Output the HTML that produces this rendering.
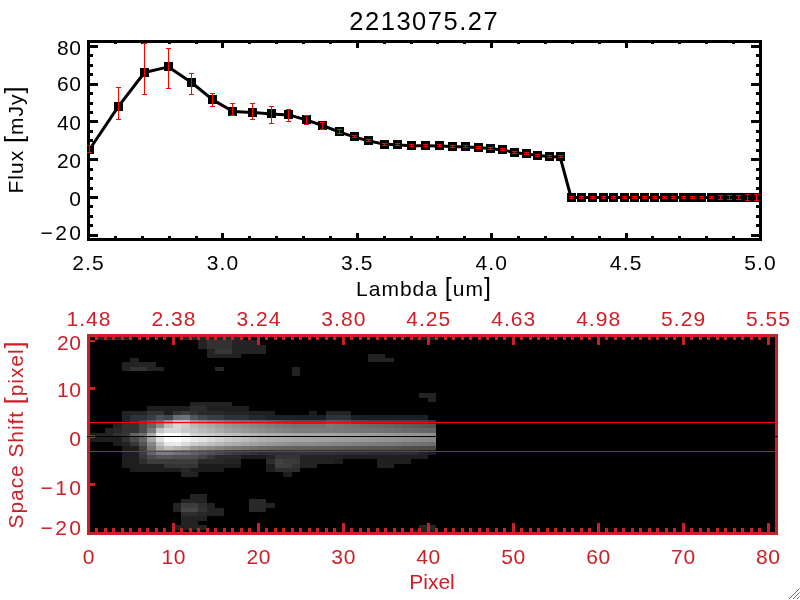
<!DOCTYPE html>
<html lang="en"><head><meta charset="utf-8"><title>2213075.27</title>
<style>html,body{margin:0;padding:0;background:#fff;}body{width:800px;height:600px;overflow:hidden;}svg{display:block;}text{font-family:"Liberation Sans", sans-serif;}</style>
</head><body>
<svg width="800" height="600" viewBox="0 0 800 600">
<rect x="0" y="0" width="800" height="600" fill="#fff"/>
<g shape-rendering="crispEdges">
<rect x="87" y="40" width="675" height="3" fill="#000"/>
<rect x="87" y="238" width="675" height="3" fill="#000"/>
<rect x="87" y="40" width="3" height="201" fill="#000"/>
<rect x="759" y="40" width="3" height="201" fill="#000"/>
<rect x="87" y="43" width="3" height="5" fill="#000"/>
<rect x="87" y="233" width="3" height="5" fill="#000"/>
<rect x="114" y="43" width="3" height="1" fill="#000"/>
<rect x="114" y="236" width="3" height="2" fill="#000"/>
<rect x="141" y="43" width="3" height="1" fill="#000"/>
<rect x="141" y="236" width="3" height="2" fill="#000"/>
<rect x="168" y="43" width="3" height="1" fill="#000"/>
<rect x="168" y="236" width="3" height="2" fill="#000"/>
<rect x="195" y="43" width="3" height="1" fill="#000"/>
<rect x="195" y="236" width="3" height="2" fill="#000"/>
<rect x="221" y="43" width="3" height="5" fill="#000"/>
<rect x="221" y="233" width="3" height="5" fill="#000"/>
<rect x="248" y="43" width="3" height="1" fill="#000"/>
<rect x="248" y="236" width="3" height="2" fill="#000"/>
<rect x="275" y="43" width="3" height="1" fill="#000"/>
<rect x="275" y="236" width="3" height="2" fill="#000"/>
<rect x="302" y="43" width="3" height="1" fill="#000"/>
<rect x="302" y="236" width="3" height="2" fill="#000"/>
<rect x="329" y="43" width="3" height="1" fill="#000"/>
<rect x="329" y="236" width="3" height="2" fill="#000"/>
<rect x="356" y="43" width="3" height="5" fill="#000"/>
<rect x="356" y="233" width="3" height="5" fill="#000"/>
<rect x="383" y="43" width="3" height="1" fill="#000"/>
<rect x="383" y="236" width="3" height="2" fill="#000"/>
<rect x="410" y="43" width="3" height="1" fill="#000"/>
<rect x="410" y="236" width="3" height="2" fill="#000"/>
<rect x="436" y="43" width="3" height="1" fill="#000"/>
<rect x="436" y="236" width="3" height="2" fill="#000"/>
<rect x="463" y="43" width="3" height="1" fill="#000"/>
<rect x="463" y="236" width="3" height="2" fill="#000"/>
<rect x="490" y="43" width="3" height="5" fill="#000"/>
<rect x="490" y="233" width="3" height="5" fill="#000"/>
<rect x="517" y="43" width="3" height="1" fill="#000"/>
<rect x="517" y="236" width="3" height="2" fill="#000"/>
<rect x="544" y="43" width="3" height="1" fill="#000"/>
<rect x="544" y="236" width="3" height="2" fill="#000"/>
<rect x="571" y="43" width="3" height="1" fill="#000"/>
<rect x="571" y="236" width="3" height="2" fill="#000"/>
<rect x="598" y="43" width="3" height="1" fill="#000"/>
<rect x="598" y="236" width="3" height="2" fill="#000"/>
<rect x="625" y="43" width="3" height="5" fill="#000"/>
<rect x="625" y="233" width="3" height="5" fill="#000"/>
<rect x="651" y="43" width="3" height="1" fill="#000"/>
<rect x="651" y="236" width="3" height="2" fill="#000"/>
<rect x="678" y="43" width="3" height="1" fill="#000"/>
<rect x="678" y="236" width="3" height="2" fill="#000"/>
<rect x="705" y="43" width="3" height="1" fill="#000"/>
<rect x="705" y="236" width="3" height="2" fill="#000"/>
<rect x="732" y="43" width="3" height="1" fill="#000"/>
<rect x="732" y="236" width="3" height="2" fill="#000"/>
<rect x="759" y="43" width="3" height="5" fill="#000"/>
<rect x="759" y="233" width="3" height="5" fill="#000"/>
<rect x="90" y="234" width="8" height="3" fill="#000"/>
<rect x="751" y="234" width="8" height="3" fill="#000"/>
<rect x="90" y="224" width="3" height="3" fill="#000"/>
<rect x="756" y="224" width="3" height="3" fill="#000"/>
<rect x="90" y="215" width="3" height="3" fill="#000"/>
<rect x="756" y="215" width="3" height="3" fill="#000"/>
<rect x="90" y="205" width="3" height="3" fill="#000"/>
<rect x="756" y="205" width="3" height="3" fill="#000"/>
<rect x="90" y="196" width="8" height="3" fill="#000"/>
<rect x="751" y="196" width="8" height="3" fill="#000"/>
<rect x="90" y="187" width="3" height="3" fill="#000"/>
<rect x="756" y="187" width="3" height="3" fill="#000"/>
<rect x="90" y="177" width="3" height="3" fill="#000"/>
<rect x="756" y="177" width="3" height="3" fill="#000"/>
<rect x="90" y="168" width="3" height="3" fill="#000"/>
<rect x="756" y="168" width="3" height="3" fill="#000"/>
<rect x="90" y="158" width="8" height="3" fill="#000"/>
<rect x="751" y="158" width="8" height="3" fill="#000"/>
<rect x="90" y="149" width="3" height="3" fill="#000"/>
<rect x="756" y="149" width="3" height="3" fill="#000"/>
<rect x="90" y="139" width="3" height="3" fill="#000"/>
<rect x="756" y="139" width="3" height="3" fill="#000"/>
<rect x="90" y="130" width="3" height="3" fill="#000"/>
<rect x="756" y="130" width="3" height="3" fill="#000"/>
<rect x="90" y="120" width="8" height="3" fill="#000"/>
<rect x="751" y="120" width="8" height="3" fill="#000"/>
<rect x="90" y="111" width="3" height="3" fill="#000"/>
<rect x="756" y="111" width="3" height="3" fill="#000"/>
<rect x="90" y="102" width="3" height="3" fill="#000"/>
<rect x="756" y="102" width="3" height="3" fill="#000"/>
<rect x="90" y="92" width="3" height="3" fill="#000"/>
<rect x="756" y="92" width="3" height="3" fill="#000"/>
<rect x="90" y="83" width="8" height="3" fill="#000"/>
<rect x="751" y="83" width="8" height="3" fill="#000"/>
<rect x="90" y="73" width="3" height="3" fill="#000"/>
<rect x="756" y="73" width="3" height="3" fill="#000"/>
<rect x="90" y="64" width="3" height="3" fill="#000"/>
<rect x="756" y="64" width="3" height="3" fill="#000"/>
<rect x="90" y="54" width="3" height="3" fill="#000"/>
<rect x="756" y="54" width="3" height="3" fill="#000"/>
<rect x="90" y="45" width="8" height="3" fill="#000"/>
<rect x="751" y="45" width="8" height="3" fill="#000"/>
</g>
<clipPath id="ctop"><rect x="88" y="41" width="673" height="199"/></clipPath>
<g clip-path="url(#ctop)">
<polyline fill="none" stroke="#000" stroke-width="3" stroke-linejoin="round" points="89.5,149.5 118.1,106.9 144.5,72.5 168.5,66.9 191.5,82.5 212.9,99.9 232.9,111.5 252.5,112.5 271.1,113.9 288.9,114.9 306.1,119.9 322.5,125.5 339.1,131.9 354.1,136.9 369,141 384.1,144.1 397.9,144.9 411.9,145.7 425.9,145.7 439.1,145.9 452.1,146.5 465.1,146.9 478.1,147.5 490.1,148.5 502.5,149.9 514.1,152.5 526.1,153.9 537.9,155.5 549.1,156.5 560.1,156.9 571.1,197.5 581.9,197.5 592.9,197.5 603.1,197.5 613.9,197.5 624.1,197.5 634.5,197.5 644.1,197.5 654.1,197.5 664.1,197.5 673.9,197.5 683.1,197.5 692.9,197.5 701.9,197.5 711.1,197.5 720.5,197.5 729.5,197.5 738.5,197.5 747.9,197.5 756.1,197.5"/>
<g shape-rendering="crispEdges">
<rect x="85" y="145" width="9" height="9" fill="#000"/>
<rect x="114" y="102" width="9" height="9" fill="#000"/>
<rect x="140" y="68" width="9" height="9" fill="#000"/>
<rect x="164" y="62" width="9" height="9" fill="#000"/>
<rect x="187" y="78" width="9" height="9" fill="#000"/>
<rect x="208" y="95" width="9" height="9" fill="#000"/>
<rect x="228" y="107" width="9" height="9" fill="#000"/>
<rect x="248" y="108" width="9" height="9" fill="#000"/>
<rect x="267" y="109" width="9" height="9" fill="#000"/>
<rect x="284" y="110" width="9" height="9" fill="#000"/>
<rect x="302" y="115" width="9" height="9" fill="#000"/>
<rect x="318" y="121" width="9" height="9" fill="#000"/>
<rect x="335" y="127" width="9" height="9" fill="#000"/>
<rect x="350" y="132" width="9" height="9" fill="#000"/>
<rect x="364" y="136" width="9" height="9" fill="#000"/>
<rect x="380" y="140" width="9" height="9" fill="#000"/>
<rect x="393" y="140" width="9" height="9" fill="#000"/>
<rect x="407" y="141" width="9" height="9" fill="#000"/>
<rect x="421" y="141" width="9" height="9" fill="#000"/>
<rect x="435" y="141" width="9" height="9" fill="#000"/>
<rect x="448" y="142" width="9" height="9" fill="#000"/>
<rect x="461" y="142" width="9" height="9" fill="#000"/>
<rect x="474" y="143" width="9" height="9" fill="#000"/>
<rect x="486" y="144" width="9" height="9" fill="#000"/>
<rect x="498" y="145" width="9" height="9" fill="#000"/>
<rect x="510" y="148" width="9" height="9" fill="#000"/>
<rect x="522" y="149" width="9" height="9" fill="#000"/>
<rect x="533" y="151" width="9" height="9" fill="#000"/>
<rect x="545" y="152" width="9" height="9" fill="#000"/>
<rect x="556" y="152" width="9" height="9" fill="#000"/>
<rect x="567" y="193" width="9" height="9" fill="#000"/>
<rect x="577" y="193" width="9" height="9" fill="#000"/>
<rect x="588" y="193" width="9" height="9" fill="#000"/>
<rect x="599" y="193" width="9" height="9" fill="#000"/>
<rect x="609" y="193" width="9" height="9" fill="#000"/>
<rect x="620" y="193" width="9" height="9" fill="#000"/>
<rect x="630" y="193" width="9" height="9" fill="#000"/>
<rect x="640" y="193" width="9" height="9" fill="#000"/>
<rect x="650" y="193" width="9" height="9" fill="#000"/>
<rect x="660" y="193" width="9" height="9" fill="#000"/>
<rect x="669" y="193" width="9" height="9" fill="#000"/>
<rect x="679" y="193" width="9" height="9" fill="#000"/>
<rect x="688" y="193" width="9" height="9" fill="#000"/>
<rect x="697" y="193" width="9" height="9" fill="#000"/>
<rect x="707" y="193" width="9" height="9" fill="#000"/>
<rect x="716" y="193" width="9" height="9" fill="#000"/>
<rect x="725" y="193" width="9" height="9" fill="#000"/>
<rect x="734" y="193" width="9" height="9" fill="#000"/>
<rect x="743" y="193" width="9" height="9" fill="#000"/>
<rect x="752" y="193" width="9" height="9" fill="#000"/>
<rect x="89" y="145" width="1" height="8" fill="#f00"/>
<rect x="87" y="145" width="5" height="1" fill="#f00"/>
<rect x="87" y="152" width="5" height="1" fill="#f00"/>
<rect x="118" y="87" width="1" height="33" fill="#f00"/>
<rect x="116" y="87" width="5" height="1" fill="#f00"/>
<rect x="116" y="119" width="5" height="1" fill="#f00"/>
<rect x="144" y="43" width="1" height="52" fill="#f00"/>
<rect x="142" y="43" width="5" height="1" fill="#f00"/>
<rect x="142" y="94" width="5" height="1" fill="#f00"/>
<rect x="168" y="48" width="1" height="41" fill="#f00"/>
<rect x="166" y="48" width="5" height="1" fill="#f00"/>
<rect x="166" y="88" width="5" height="1" fill="#f00"/>
<rect x="191" y="73" width="1" height="22" fill="#f00"/>
<rect x="189" y="73" width="5" height="1" fill="#f00"/>
<rect x="189" y="94" width="5" height="1" fill="#f00"/>
<rect x="212" y="93" width="1" height="14" fill="#f00"/>
<rect x="210" y="93" width="5" height="1" fill="#f00"/>
<rect x="210" y="106" width="5" height="1" fill="#f00"/>
<rect x="232" y="103" width="1" height="13" fill="#f00"/>
<rect x="230" y="103" width="5" height="1" fill="#f00"/>
<rect x="230" y="115" width="5" height="1" fill="#f00"/>
<rect x="252" y="103" width="1" height="17" fill="#f00"/>
<rect x="250" y="103" width="5" height="1" fill="#f00"/>
<rect x="250" y="119" width="5" height="1" fill="#f00"/>
<rect x="271" y="106" width="1" height="18" fill="#f00"/>
<rect x="269" y="106" width="5" height="1" fill="#f00"/>
<rect x="269" y="123" width="5" height="1" fill="#f00"/>
<rect x="288" y="109" width="1" height="13" fill="#f00"/>
<rect x="286" y="109" width="5" height="1" fill="#f00"/>
<rect x="286" y="121" width="5" height="1" fill="#f00"/>
<rect x="306" y="115" width="1" height="10" fill="#f00"/>
<rect x="304" y="115" width="5" height="1" fill="#f00"/>
<rect x="304" y="124" width="5" height="1" fill="#f00"/>
<rect x="322" y="122" width="1" height="8" fill="#f00"/>
<rect x="320" y="122" width="5" height="1" fill="#f00"/>
<rect x="320" y="129" width="5" height="1" fill="#f00"/>
<rect x="339" y="129" width="1" height="5" fill="#f00"/>
<rect x="337" y="129" width="5" height="1" fill="#f00"/>
<rect x="337" y="133" width="5" height="1" fill="#f00"/>
<rect x="354" y="135" width="1" height="3" fill="#f00"/>
<rect x="352" y="135" width="5" height="1" fill="#f00"/>
<rect x="352" y="137" width="5" height="1" fill="#f00"/>
<rect x="368" y="139" width="1" height="3" fill="#f00"/>
<rect x="366" y="139" width="5" height="1" fill="#f00"/>
<rect x="366" y="141" width="5" height="1" fill="#f00"/>
<rect x="384" y="143" width="1" height="3" fill="#f00"/>
<rect x="382" y="143" width="5" height="1" fill="#f00"/>
<rect x="382" y="145" width="5" height="1" fill="#f00"/>
<rect x="397" y="143" width="1" height="3" fill="#f00"/>
<rect x="395" y="143" width="5" height="1" fill="#f00"/>
<rect x="395" y="145" width="5" height="1" fill="#f00"/>
<rect x="411" y="144" width="1" height="3" fill="#f00"/>
<rect x="409" y="144" width="5" height="1" fill="#f00"/>
<rect x="409" y="146" width="5" height="1" fill="#f00"/>
<rect x="425" y="144" width="1" height="3" fill="#f00"/>
<rect x="423" y="144" width="5" height="1" fill="#f00"/>
<rect x="423" y="146" width="5" height="1" fill="#f00"/>
<rect x="439" y="144" width="1" height="3" fill="#f00"/>
<rect x="437" y="144" width="5" height="1" fill="#f00"/>
<rect x="437" y="146" width="5" height="1" fill="#f00"/>
<rect x="452" y="145" width="1" height="3" fill="#f00"/>
<rect x="450" y="145" width="5" height="1" fill="#f00"/>
<rect x="450" y="147" width="5" height="1" fill="#f00"/>
<rect x="465" y="145" width="1" height="3" fill="#f00"/>
<rect x="463" y="145" width="5" height="1" fill="#f00"/>
<rect x="463" y="147" width="5" height="1" fill="#f00"/>
<rect x="478" y="146" width="1" height="3" fill="#f00"/>
<rect x="476" y="146" width="5" height="1" fill="#f00"/>
<rect x="476" y="148" width="5" height="1" fill="#f00"/>
<rect x="490" y="147" width="1" height="3" fill="#f00"/>
<rect x="488" y="147" width="5" height="1" fill="#f00"/>
<rect x="488" y="149" width="5" height="1" fill="#f00"/>
<rect x="502" y="148" width="1" height="3" fill="#f00"/>
<rect x="500" y="148" width="5" height="1" fill="#f00"/>
<rect x="500" y="150" width="5" height="1" fill="#f00"/>
<rect x="514" y="151" width="1" height="3" fill="#f00"/>
<rect x="512" y="151" width="5" height="1" fill="#f00"/>
<rect x="512" y="153" width="5" height="1" fill="#f00"/>
<rect x="526" y="152" width="1" height="3" fill="#f00"/>
<rect x="524" y="152" width="5" height="1" fill="#f00"/>
<rect x="524" y="154" width="5" height="1" fill="#f00"/>
<rect x="537" y="154" width="1" height="3" fill="#f00"/>
<rect x="535" y="154" width="5" height="1" fill="#f00"/>
<rect x="535" y="156" width="5" height="1" fill="#f00"/>
<rect x="549" y="155" width="1" height="3" fill="#f00"/>
<rect x="547" y="155" width="5" height="1" fill="#f00"/>
<rect x="547" y="157" width="5" height="1" fill="#f00"/>
<rect x="560" y="155" width="1" height="3" fill="#f00"/>
<rect x="558" y="155" width="5" height="1" fill="#f00"/>
<rect x="558" y="157" width="5" height="1" fill="#f00"/>
<rect x="571" y="196" width="1" height="3" fill="#f00"/>
<rect x="569" y="196" width="5" height="1" fill="#f00"/>
<rect x="569" y="198" width="5" height="1" fill="#f00"/>
<rect x="581" y="196" width="1" height="3" fill="#f00"/>
<rect x="579" y="196" width="5" height="1" fill="#f00"/>
<rect x="579" y="198" width="5" height="1" fill="#f00"/>
<rect x="592" y="196" width="1" height="3" fill="#f00"/>
<rect x="590" y="196" width="5" height="1" fill="#f00"/>
<rect x="590" y="198" width="5" height="1" fill="#f00"/>
<rect x="603" y="196" width="1" height="3" fill="#f00"/>
<rect x="601" y="196" width="5" height="1" fill="#f00"/>
<rect x="601" y="198" width="5" height="1" fill="#f00"/>
<rect x="613" y="196" width="1" height="3" fill="#f00"/>
<rect x="611" y="196" width="5" height="1" fill="#f00"/>
<rect x="611" y="198" width="5" height="1" fill="#f00"/>
<rect x="624" y="196" width="1" height="3" fill="#f00"/>
<rect x="622" y="196" width="5" height="1" fill="#f00"/>
<rect x="622" y="198" width="5" height="1" fill="#f00"/>
<rect x="634" y="196" width="1" height="3" fill="#f00"/>
<rect x="632" y="196" width="5" height="1" fill="#f00"/>
<rect x="632" y="198" width="5" height="1" fill="#f00"/>
<rect x="644" y="196" width="1" height="3" fill="#f00"/>
<rect x="642" y="196" width="5" height="1" fill="#f00"/>
<rect x="642" y="198" width="5" height="1" fill="#f00"/>
<rect x="654" y="196" width="1" height="3" fill="#f00"/>
<rect x="652" y="196" width="5" height="1" fill="#f00"/>
<rect x="652" y="198" width="5" height="1" fill="#f00"/>
<rect x="664" y="196" width="1" height="3" fill="#f00"/>
<rect x="662" y="196" width="5" height="1" fill="#f00"/>
<rect x="662" y="198" width="5" height="1" fill="#f00"/>
<rect x="673" y="196" width="1" height="3" fill="#f00"/>
<rect x="671" y="196" width="5" height="1" fill="#f00"/>
<rect x="671" y="198" width="5" height="1" fill="#f00"/>
<rect x="683" y="196" width="1" height="3" fill="#f00"/>
<rect x="681" y="196" width="5" height="1" fill="#f00"/>
<rect x="681" y="198" width="5" height="1" fill="#f00"/>
<rect x="692" y="196" width="1" height="3" fill="#f00"/>
<rect x="690" y="196" width="5" height="1" fill="#f00"/>
<rect x="690" y="198" width="5" height="1" fill="#f00"/>
<rect x="701" y="196" width="1" height="3" fill="#f00"/>
<rect x="699" y="196" width="5" height="1" fill="#f00"/>
<rect x="699" y="198" width="5" height="1" fill="#f00"/>
<rect x="711" y="196" width="1" height="3" fill="#f00"/>
<rect x="709" y="196" width="5" height="1" fill="#f00"/>
<rect x="709" y="198" width="5" height="1" fill="#f00"/>
<rect x="720" y="195" width="1" height="5" fill="#f00"/>
<rect x="718" y="195" width="5" height="1" fill="#f00"/>
<rect x="718" y="199" width="5" height="1" fill="#f00"/>
<rect x="729" y="195" width="1" height="5" fill="#f00"/>
<rect x="727" y="195" width="5" height="1" fill="#f00"/>
<rect x="727" y="199" width="5" height="1" fill="#f00"/>
<rect x="738" y="195" width="1" height="5" fill="#f00"/>
<rect x="736" y="195" width="5" height="1" fill="#f00"/>
<rect x="736" y="199" width="5" height="1" fill="#f00"/>
<rect x="747" y="194" width="1" height="7" fill="#f00"/>
<rect x="745" y="194" width="5" height="1" fill="#f00"/>
<rect x="745" y="200" width="5" height="1" fill="#f00"/>
<rect x="756" y="194" width="1" height="7" fill="#f00"/>
<rect x="754" y="194" width="5" height="1" fill="#f00"/>
<rect x="754" y="200" width="5" height="1" fill="#f00"/>
</g></g>
<g shape-rendering="crispEdges">
<rect x="89" y="145" width="1" height="8" fill="#f00"/>
<rect x="87" y="145" width="5" height="1" fill="#f00"/>
<rect x="87" y="152" width="5" height="1" fill="#f00"/>
</g>
<text x="423.5" y="29.5" font-size="25.5" fill="#000" text-anchor="middle" textLength="148.5" lengthAdjust="spacing" >2213075.27</text>
<text x="81" y="55" font-size="21" fill="#000" text-anchor="end" textLength="24" lengthAdjust="spacing" >80</text>
<text x="81" y="91" font-size="21" fill="#000" text-anchor="end" textLength="24" lengthAdjust="spacing" >60</text>
<text x="81" y="129.5" font-size="21" fill="#000" text-anchor="end" textLength="24" lengthAdjust="spacing" >40</text>
<text x="81" y="168" font-size="21" fill="#000" text-anchor="end" textLength="24" lengthAdjust="spacing" >20</text>
<text x="81" y="205.5" font-size="21" fill="#000" text-anchor="end" textLength="12" lengthAdjust="spacing" >0</text>
<text x="81" y="239.5" font-size="21" fill="#000" text-anchor="end" textLength="40.5" lengthAdjust="spacing" >−20</text>
<text x="88" y="269.5" font-size="21" fill="#000" text-anchor="middle" textLength="31.5" lengthAdjust="spacing" >2.5</text>
<text x="222.4" y="269.5" font-size="21" fill="#000" text-anchor="middle" textLength="31.5" lengthAdjust="spacing" >3.0</text>
<text x="356.8" y="269.5" font-size="21" fill="#000" text-anchor="middle" textLength="31.5" lengthAdjust="spacing" >3.5</text>
<text x="491.2" y="269.5" font-size="21" fill="#000" text-anchor="middle" textLength="31.5" lengthAdjust="spacing" >4.0</text>
<text x="625.6" y="269.5" font-size="21" fill="#000" text-anchor="middle" textLength="31.5" lengthAdjust="spacing" >4.5</text>
<text x="760" y="269.5" font-size="21" fill="#000" text-anchor="middle" textLength="31.5" lengthAdjust="spacing" >5.0</text>
<text x="423.5" y="295.5" font-size="21" fill="#000" text-anchor="middle" textLength="135" lengthAdjust="spacing" >Lambda <tspan font-size="25">[</tspan>um<tspan font-size="25">]</tspan></text>
<text font-size="21" fill="#000" text-anchor="middle" textLength="107" lengthAdjust="spacing" transform="translate(22.5,140) rotate(-90)">Flux <tspan font-size="25">[</tspan>mJy<tspan font-size="25">]</tspan></text>
<g shape-rendering="crispEdges">
<rect x="88" y="335" width="689" height="199" fill="#000"/>
<rect x="88" y="437" width="8" height="5" fill="#1e1e1e"/>
<rect x="88" y="433" width="8" height="4" fill="#1e1e1e"/>
<rect x="96" y="437" width="9" height="5" fill="#1e1e1e"/>
<rect x="96" y="433" width="9" height="4" fill="#232323"/>
<rect x="96" y="336" width="9" height="4" fill="#262626"/>
<rect x="105" y="437" width="8" height="5" fill="#1e1e1e"/>
<rect x="105" y="433" width="8" height="4" fill="#232323"/>
<rect x="105" y="428" width="8" height="5" fill="#232323"/>
<rect x="105" y="336" width="8" height="4" fill="#262626"/>
<rect x="113" y="442" width="9" height="4" fill="#1e1e1e"/>
<rect x="113" y="437" width="9" height="5" fill="#1e1e1e"/>
<rect x="113" y="433" width="9" height="4" fill="#323232"/>
<rect x="113" y="428" width="9" height="5" fill="#282828"/>
<rect x="113" y="424" width="9" height="4" fill="#232323"/>
<rect x="113" y="336" width="9" height="4" fill="#262626"/>
<rect x="122" y="464" width="8" height="4" fill="#1e1e1e"/>
<rect x="122" y="459" width="8" height="5" fill="#1e1e1e"/>
<rect x="122" y="455" width="8" height="4" fill="#1e1e1e"/>
<rect x="122" y="450" width="8" height="5" fill="#1e1e1e"/>
<rect x="122" y="446" width="8" height="4" fill="#1e1e1e"/>
<rect x="122" y="442" width="8" height="4" fill="#232323"/>
<rect x="122" y="437" width="8" height="5" fill="#323232"/>
<rect x="122" y="433" width="8" height="4" fill="#373737"/>
<rect x="122" y="428" width="8" height="5" fill="#323232"/>
<rect x="122" y="424" width="8" height="4" fill="#323232"/>
<rect x="122" y="420" width="8" height="4" fill="#232323"/>
<rect x="122" y="415" width="8" height="5" fill="#232323"/>
<rect x="122" y="411" width="8" height="4" fill="#232323"/>
<rect x="122" y="367" width="8" height="4" fill="#232323"/>
<rect x="122" y="362" width="8" height="5" fill="#232323"/>
<rect x="122" y="336" width="8" height="4" fill="#262626"/>
<rect x="130" y="468" width="9" height="4" fill="#1e1e1e"/>
<rect x="130" y="464" width="9" height="4" fill="#1e1e1e"/>
<rect x="130" y="459" width="9" height="5" fill="#1e1e1e"/>
<rect x="130" y="455" width="9" height="4" fill="#1e1e1e"/>
<rect x="130" y="450" width="9" height="5" fill="#1e1e1e"/>
<rect x="130" y="446" width="9" height="4" fill="#1e1e1e"/>
<rect x="130" y="442" width="9" height="4" fill="#373737"/>
<rect x="130" y="437" width="9" height="5" fill="#4b4b4b"/>
<rect x="130" y="433" width="9" height="4" fill="#646464"/>
<rect x="130" y="428" width="9" height="5" fill="#323232"/>
<rect x="130" y="424" width="9" height="4" fill="#323232"/>
<rect x="130" y="420" width="9" height="4" fill="#323232"/>
<rect x="130" y="415" width="9" height="5" fill="#323232"/>
<rect x="130" y="411" width="9" height="4" fill="#232323"/>
<rect x="130" y="367" width="9" height="4" fill="#323232"/>
<rect x="130" y="362" width="9" height="5" fill="#232323"/>
<rect x="130" y="358" width="9" height="4" fill="#232323"/>
<rect x="139" y="468" width="8" height="4" fill="#1e1e1e"/>
<rect x="139" y="464" width="8" height="4" fill="#1e1e1e"/>
<rect x="139" y="459" width="8" height="5" fill="#2d2d2d"/>
<rect x="139" y="455" width="8" height="4" fill="#373737"/>
<rect x="139" y="450" width="8" height="5" fill="#3c3c3c"/>
<rect x="139" y="446" width="8" height="4" fill="#414141"/>
<rect x="139" y="442" width="8" height="4" fill="#555555"/>
<rect x="139" y="437" width="8" height="5" fill="#646464"/>
<rect x="139" y="433" width="8" height="4" fill="#707070"/>
<rect x="139" y="428" width="8" height="5" fill="#4b4b4b"/>
<rect x="139" y="424" width="8" height="4" fill="#4b4b4b"/>
<rect x="139" y="420" width="8" height="4" fill="#464646"/>
<rect x="139" y="415" width="8" height="5" fill="#323232"/>
<rect x="139" y="411" width="8" height="4" fill="#232323"/>
<rect x="139" y="367" width="8" height="4" fill="#323232"/>
<rect x="139" y="362" width="8" height="5" fill="#232323"/>
<rect x="147" y="468" width="9" height="4" fill="#1e1e1e"/>
<rect x="147" y="464" width="9" height="4" fill="#1e1e1e"/>
<rect x="147" y="459" width="9" height="5" fill="#3c3c3c"/>
<rect x="147" y="455" width="9" height="4" fill="#4b4b4b"/>
<rect x="147" y="450" width="9" height="5" fill="#646464"/>
<rect x="147" y="446" width="9" height="4" fill="#787878"/>
<rect x="147" y="442" width="9" height="4" fill="#878787"/>
<rect x="147" y="437" width="9" height="5" fill="#a5a5a5"/>
<rect x="147" y="433" width="9" height="4" fill="#aaaaaa"/>
<rect x="147" y="428" width="9" height="5" fill="#787878"/>
<rect x="147" y="424" width="9" height="4" fill="#646464"/>
<rect x="147" y="420" width="9" height="4" fill="#5a5a5a"/>
<rect x="147" y="415" width="9" height="5" fill="#3c3c3c"/>
<rect x="147" y="411" width="9" height="4" fill="#323232"/>
<rect x="147" y="406" width="9" height="5" fill="#1e1e1e"/>
<rect x="147" y="367" width="9" height="4" fill="#232323"/>
<rect x="147" y="362" width="9" height="5" fill="#232323"/>
<rect x="156" y="468" width="8" height="4" fill="#1e1e1e"/>
<rect x="156" y="464" width="8" height="4" fill="#1e1e1e"/>
<rect x="156" y="459" width="8" height="5" fill="#3c3c3c"/>
<rect x="156" y="455" width="8" height="4" fill="#555555"/>
<rect x="156" y="450" width="8" height="5" fill="#7d7d7d"/>
<rect x="156" y="446" width="8" height="4" fill="#aaaaaa"/>
<rect x="156" y="442" width="8" height="4" fill="#c3c3c3"/>
<rect x="156" y="437" width="8" height="5" fill="#e1e1e1"/>
<rect x="156" y="433" width="8" height="4" fill="#f0f0f0"/>
<rect x="156" y="428" width="8" height="5" fill="#c3c3c3"/>
<rect x="156" y="424" width="8" height="4" fill="#8c8c8c"/>
<rect x="156" y="420" width="8" height="4" fill="#6e6e6e"/>
<rect x="156" y="415" width="8" height="5" fill="#505050"/>
<rect x="156" y="411" width="8" height="4" fill="#323232"/>
<rect x="156" y="406" width="8" height="5" fill="#1e1e1e"/>
<rect x="156" y="367" width="8" height="4" fill="#232323"/>
<rect x="164" y="468" width="9" height="4" fill="#1e1e1e"/>
<rect x="164" y="464" width="9" height="4" fill="#343434"/>
<rect x="164" y="459" width="9" height="5" fill="#3c3c3c"/>
<rect x="164" y="455" width="9" height="4" fill="#555555"/>
<rect x="164" y="450" width="9" height="5" fill="#7d7d7d"/>
<rect x="164" y="446" width="9" height="4" fill="#bebebe"/>
<rect x="164" y="442" width="9" height="4" fill="#e6e6e6"/>
<rect x="164" y="437" width="9" height="5" fill="#fafafa"/>
<rect x="164" y="433" width="9" height="4" fill="#ffffff"/>
<rect x="164" y="428" width="9" height="5" fill="#d7d7d7"/>
<rect x="164" y="424" width="9" height="4" fill="#bebebe"/>
<rect x="164" y="420" width="9" height="4" fill="#969696"/>
<rect x="164" y="415" width="9" height="5" fill="#464646"/>
<rect x="164" y="411" width="9" height="4" fill="#1e1e1e"/>
<rect x="164" y="406" width="9" height="5" fill="#1e1e1e"/>
<rect x="173" y="525" width="8" height="5" fill="#232323"/>
<rect x="173" y="508" width="8" height="4" fill="#232323"/>
<rect x="173" y="503" width="8" height="5" fill="#232323"/>
<rect x="173" y="468" width="8" height="4" fill="#1e1e1e"/>
<rect x="173" y="464" width="8" height="4" fill="#343434"/>
<rect x="173" y="459" width="8" height="5" fill="#3c3c3c"/>
<rect x="173" y="455" width="8" height="4" fill="#505050"/>
<rect x="173" y="450" width="8" height="5" fill="#737373"/>
<rect x="173" y="446" width="8" height="4" fill="#b4b4b4"/>
<rect x="173" y="442" width="8" height="4" fill="#ebebeb"/>
<rect x="173" y="437" width="8" height="5" fill="#ffffff"/>
<rect x="173" y="433" width="8" height="4" fill="#fcfcfc"/>
<rect x="173" y="428" width="8" height="5" fill="#d7d7d7"/>
<rect x="173" y="424" width="8" height="4" fill="#d7d7d7"/>
<rect x="173" y="420" width="8" height="4" fill="#bebebe"/>
<rect x="173" y="415" width="8" height="5" fill="#6e6e6e"/>
<rect x="173" y="411" width="8" height="4" fill="#323232"/>
<rect x="173" y="406" width="8" height="5" fill="#1e1e1e"/>
<rect x="181" y="525" width="9" height="5" fill="#232323"/>
<rect x="181" y="521" width="9" height="4" fill="#232323"/>
<rect x="181" y="516" width="9" height="5" fill="#232323"/>
<rect x="181" y="512" width="9" height="4" fill="#2d2d2d"/>
<rect x="181" y="508" width="9" height="4" fill="#464646"/>
<rect x="181" y="503" width="9" height="5" fill="#3c3c3c"/>
<rect x="181" y="499" width="9" height="4" fill="#232323"/>
<rect x="181" y="472" width="9" height="5" fill="#232323"/>
<rect x="181" y="468" width="9" height="4" fill="#282828"/>
<rect x="181" y="464" width="9" height="4" fill="#343434"/>
<rect x="181" y="459" width="9" height="5" fill="#3c3c3c"/>
<rect x="181" y="455" width="9" height="4" fill="#505050"/>
<rect x="181" y="450" width="9" height="5" fill="#6e6e6e"/>
<rect x="181" y="446" width="9" height="4" fill="#aaaaaa"/>
<rect x="181" y="442" width="9" height="4" fill="#dcdcdc"/>
<rect x="181" y="437" width="9" height="5" fill="#f5f5f5"/>
<rect x="181" y="433" width="9" height="4" fill="#ececec"/>
<rect x="181" y="428" width="9" height="5" fill="#c8c8c8"/>
<rect x="181" y="424" width="9" height="4" fill="#cdcdcd"/>
<rect x="181" y="420" width="9" height="4" fill="#bebebe"/>
<rect x="181" y="415" width="9" height="5" fill="#737373"/>
<rect x="181" y="411" width="9" height="4" fill="#3c3c3c"/>
<rect x="181" y="406" width="9" height="5" fill="#1e1e1e"/>
<rect x="181" y="336" width="9" height="4" fill="#262626"/>
<rect x="190" y="525" width="8" height="5" fill="#232323"/>
<rect x="190" y="521" width="8" height="4" fill="#232323"/>
<rect x="190" y="516" width="8" height="5" fill="#232323"/>
<rect x="190" y="512" width="8" height="4" fill="#2d2d2d"/>
<rect x="190" y="508" width="8" height="4" fill="#464646"/>
<rect x="190" y="503" width="8" height="5" fill="#3c3c3c"/>
<rect x="190" y="499" width="8" height="4" fill="#232323"/>
<rect x="190" y="494" width="8" height="5" fill="#232323"/>
<rect x="190" y="472" width="8" height="5" fill="#232323"/>
<rect x="190" y="468" width="8" height="4" fill="#1c1c1c"/>
<rect x="190" y="464" width="8" height="4" fill="#343434"/>
<rect x="190" y="459" width="8" height="5" fill="#3c3c3c"/>
<rect x="190" y="455" width="8" height="4" fill="#4e4e4e"/>
<rect x="190" y="450" width="8" height="5" fill="#646464"/>
<rect x="190" y="446" width="8" height="4" fill="#969696"/>
<rect x="190" y="442" width="8" height="4" fill="#cdcdcd"/>
<rect x="190" y="437" width="8" height="5" fill="#ebebeb"/>
<rect x="190" y="433" width="8" height="4" fill="#d4d4d4"/>
<rect x="190" y="428" width="8" height="5" fill="#c3c3c3"/>
<rect x="190" y="424" width="8" height="4" fill="#b9b9b9"/>
<rect x="190" y="420" width="8" height="4" fill="#969696"/>
<rect x="190" y="415" width="8" height="5" fill="#555555"/>
<rect x="190" y="411" width="8" height="4" fill="#323232"/>
<rect x="190" y="406" width="8" height="5" fill="#2d2d2d"/>
<rect x="190" y="402" width="8" height="4" fill="#232323"/>
<rect x="190" y="336" width="8" height="4" fill="#262626"/>
<rect x="198" y="525" width="9" height="5" fill="#232323"/>
<rect x="198" y="516" width="9" height="5" fill="#232323"/>
<rect x="198" y="512" width="9" height="4" fill="#282828"/>
<rect x="198" y="508" width="9" height="4" fill="#323232"/>
<rect x="198" y="503" width="9" height="5" fill="#2d2d2d"/>
<rect x="198" y="499" width="9" height="4" fill="#232323"/>
<rect x="198" y="494" width="9" height="5" fill="#232323"/>
<rect x="198" y="468" width="9" height="4" fill="#1c1c1c"/>
<rect x="198" y="464" width="9" height="4" fill="#1c1c1c"/>
<rect x="198" y="459" width="9" height="5" fill="#282828"/>
<rect x="198" y="455" width="9" height="4" fill="#444444"/>
<rect x="198" y="450" width="9" height="5" fill="#5b5b5b"/>
<rect x="198" y="446" width="9" height="4" fill="#909090"/>
<rect x="198" y="442" width="9" height="4" fill="#c6c6c6"/>
<rect x="198" y="437" width="9" height="5" fill="#e2e2e2"/>
<rect x="198" y="433" width="9" height="4" fill="#cfcfcf"/>
<rect x="198" y="428" width="9" height="5" fill="#bababa"/>
<rect x="198" y="424" width="9" height="4" fill="#b0b0b0"/>
<rect x="198" y="420" width="9" height="4" fill="#8d8d8d"/>
<rect x="198" y="415" width="9" height="5" fill="#464646"/>
<rect x="198" y="411" width="9" height="4" fill="#282828"/>
<rect x="198" y="406" width="9" height="5" fill="#2d2d2d"/>
<rect x="198" y="402" width="9" height="4" fill="#232323"/>
<rect x="198" y="345" width="9" height="4" fill="#232323"/>
<rect x="198" y="340" width="9" height="5" fill="#232323"/>
<rect x="198" y="336" width="9" height="4" fill="#262626"/>
<rect x="207" y="512" width="8" height="4" fill="#232323"/>
<rect x="207" y="508" width="8" height="4" fill="#232323"/>
<rect x="207" y="503" width="8" height="5" fill="#232323"/>
<rect x="207" y="468" width="8" height="4" fill="#1c1c1c"/>
<rect x="207" y="464" width="8" height="4" fill="#1c1c1c"/>
<rect x="207" y="459" width="8" height="5" fill="#282828"/>
<rect x="207" y="455" width="8" height="4" fill="#373737"/>
<rect x="207" y="450" width="8" height="5" fill="#525252"/>
<rect x="207" y="446" width="8" height="4" fill="#8a8a8a"/>
<rect x="207" y="442" width="8" height="4" fill="#bebebe"/>
<rect x="207" y="437" width="8" height="5" fill="#dadada"/>
<rect x="207" y="433" width="8" height="4" fill="#cacaca"/>
<rect x="207" y="428" width="8" height="5" fill="#b2b2b2"/>
<rect x="207" y="424" width="8" height="4" fill="#a8a8a8"/>
<rect x="207" y="420" width="8" height="4" fill="#848484"/>
<rect x="207" y="415" width="8" height="5" fill="#3c3c3c"/>
<rect x="207" y="411" width="8" height="4" fill="#282828"/>
<rect x="207" y="406" width="8" height="5" fill="#1e1e1e"/>
<rect x="207" y="402" width="8" height="4" fill="#232323"/>
<rect x="207" y="354" width="8" height="4" fill="#232323"/>
<rect x="207" y="349" width="8" height="5" fill="#232323"/>
<rect x="207" y="345" width="8" height="4" fill="#323232"/>
<rect x="207" y="340" width="8" height="5" fill="#323232"/>
<rect x="207" y="336" width="8" height="4" fill="#262626"/>
<rect x="215" y="512" width="9" height="4" fill="#232323"/>
<rect x="215" y="508" width="9" height="4" fill="#232323"/>
<rect x="215" y="468" width="9" height="4" fill="#1c1c1c"/>
<rect x="215" y="464" width="9" height="4" fill="#1c1c1c"/>
<rect x="215" y="459" width="9" height="5" fill="#282828"/>
<rect x="215" y="455" width="9" height="4" fill="#2a2a2a"/>
<rect x="215" y="450" width="9" height="5" fill="#4a4a4a"/>
<rect x="215" y="446" width="9" height="4" fill="#838383"/>
<rect x="215" y="442" width="9" height="4" fill="#b6b6b6"/>
<rect x="215" y="437" width="9" height="5" fill="#d1d1d1"/>
<rect x="215" y="433" width="9" height="4" fill="#c5c5c5"/>
<rect x="215" y="428" width="9" height="5" fill="#a9a9a9"/>
<rect x="215" y="424" width="9" height="4" fill="#9f9f9f"/>
<rect x="215" y="420" width="9" height="4" fill="#7c7c7c"/>
<rect x="215" y="415" width="9" height="5" fill="#3c3c3c"/>
<rect x="215" y="411" width="9" height="4" fill="#282828"/>
<rect x="215" y="406" width="9" height="5" fill="#1e1e1e"/>
<rect x="215" y="402" width="9" height="4" fill="#232323"/>
<rect x="215" y="367" width="9" height="4" fill="#282828"/>
<rect x="215" y="354" width="9" height="4" fill="#232323"/>
<rect x="215" y="349" width="9" height="5" fill="#373737"/>
<rect x="215" y="345" width="9" height="4" fill="#323232"/>
<rect x="215" y="340" width="9" height="5" fill="#323232"/>
<rect x="215" y="336" width="9" height="4" fill="#262626"/>
<rect x="224" y="464" width="8" height="4" fill="#1c1c1c"/>
<rect x="224" y="459" width="8" height="5" fill="#232323"/>
<rect x="224" y="455" width="8" height="4" fill="#282828"/>
<rect x="224" y="450" width="8" height="5" fill="#414141"/>
<rect x="224" y="446" width="8" height="4" fill="#7d7d7d"/>
<rect x="224" y="442" width="8" height="4" fill="#afafaf"/>
<rect x="224" y="437" width="8" height="5" fill="#c8c8c8"/>
<rect x="224" y="433" width="8" height="4" fill="#c0c0c0"/>
<rect x="224" y="428" width="8" height="5" fill="#a0a0a0"/>
<rect x="224" y="424" width="8" height="4" fill="#969696"/>
<rect x="224" y="420" width="8" height="4" fill="#737373"/>
<rect x="224" y="415" width="8" height="5" fill="#323232"/>
<rect x="224" y="411" width="8" height="4" fill="#232323"/>
<rect x="224" y="406" width="8" height="5" fill="#1e1e1e"/>
<rect x="224" y="402" width="8" height="4" fill="#232323"/>
<rect x="224" y="354" width="8" height="4" fill="#232323"/>
<rect x="224" y="349" width="8" height="5" fill="#373737"/>
<rect x="224" y="345" width="8" height="4" fill="#323232"/>
<rect x="224" y="340" width="8" height="5" fill="#323232"/>
<rect x="224" y="336" width="8" height="4" fill="#262626"/>
<rect x="232" y="464" width="9" height="4" fill="#1c1c1c"/>
<rect x="232" y="459" width="9" height="5" fill="#232323"/>
<rect x="232" y="455" width="9" height="4" fill="#282828"/>
<rect x="232" y="450" width="9" height="5" fill="#3c3c3c"/>
<rect x="232" y="446" width="9" height="4" fill="#787878"/>
<rect x="232" y="442" width="9" height="4" fill="#aaaaaa"/>
<rect x="232" y="437" width="9" height="5" fill="#c2c2c2"/>
<rect x="232" y="433" width="9" height="4" fill="#bcbcbc"/>
<rect x="232" y="428" width="9" height="5" fill="#9b9b9b"/>
<rect x="232" y="424" width="9" height="4" fill="#919191"/>
<rect x="232" y="420" width="9" height="4" fill="#6f6f6f"/>
<rect x="232" y="415" width="9" height="5" fill="#323232"/>
<rect x="232" y="411" width="9" height="4" fill="#232323"/>
<rect x="232" y="406" width="9" height="5" fill="#1e1e1e"/>
<rect x="232" y="354" width="9" height="4" fill="#232323"/>
<rect x="232" y="349" width="9" height="5" fill="#232323"/>
<rect x="232" y="345" width="9" height="4" fill="#232323"/>
<rect x="232" y="340" width="9" height="5" fill="#232323"/>
<rect x="232" y="336" width="9" height="4" fill="#262626"/>
<rect x="241" y="455" width="8" height="4" fill="#1c1c1c"/>
<rect x="241" y="450" width="8" height="5" fill="#373737"/>
<rect x="241" y="446" width="8" height="4" fill="#737373"/>
<rect x="241" y="442" width="8" height="4" fill="#a5a5a5"/>
<rect x="241" y="437" width="8" height="5" fill="#bcbcbc"/>
<rect x="241" y="433" width="8" height="4" fill="#b7b7b7"/>
<rect x="241" y="428" width="8" height="5" fill="#969696"/>
<rect x="241" y="424" width="8" height="4" fill="#8c8c8c"/>
<rect x="241" y="420" width="8" height="4" fill="#6c6c6c"/>
<rect x="241" y="415" width="8" height="5" fill="#323232"/>
<rect x="241" y="411" width="8" height="4" fill="#232323"/>
<rect x="241" y="406" width="8" height="5" fill="#1e1e1e"/>
<rect x="241" y="349" width="8" height="5" fill="#232323"/>
<rect x="241" y="345" width="8" height="4" fill="#232323"/>
<rect x="241" y="340" width="8" height="5" fill="#232323"/>
<rect x="249" y="508" width="9" height="4" fill="#282828"/>
<rect x="249" y="503" width="9" height="5" fill="#282828"/>
<rect x="249" y="499" width="9" height="4" fill="#282828"/>
<rect x="249" y="455" width="9" height="4" fill="#1c1c1c"/>
<rect x="249" y="450" width="9" height="5" fill="#323232"/>
<rect x="249" y="446" width="9" height="4" fill="#6e6e6e"/>
<rect x="249" y="442" width="9" height="4" fill="#a0a0a0"/>
<rect x="249" y="437" width="9" height="5" fill="#b5b5b5"/>
<rect x="249" y="433" width="9" height="4" fill="#b2b2b2"/>
<rect x="249" y="428" width="9" height="5" fill="#919191"/>
<rect x="249" y="424" width="9" height="4" fill="#878787"/>
<rect x="249" y="420" width="9" height="4" fill="#686868"/>
<rect x="249" y="415" width="9" height="5" fill="#282828"/>
<rect x="249" y="411" width="9" height="4" fill="#1e1e1e"/>
<rect x="249" y="349" width="9" height="5" fill="#232323"/>
<rect x="249" y="345" width="9" height="4" fill="#232323"/>
<rect x="249" y="340" width="9" height="5" fill="#232323"/>
<rect x="258" y="508" width="8" height="4" fill="#282828"/>
<rect x="258" y="503" width="8" height="5" fill="#282828"/>
<rect x="258" y="499" width="8" height="4" fill="#282828"/>
<rect x="258" y="455" width="8" height="4" fill="#1c1c1c"/>
<rect x="258" y="450" width="8" height="5" fill="#2d2d2d"/>
<rect x="258" y="446" width="8" height="4" fill="#696969"/>
<rect x="258" y="442" width="8" height="4" fill="#9b9b9b"/>
<rect x="258" y="437" width="8" height="5" fill="#afafaf"/>
<rect x="258" y="433" width="8" height="4" fill="#aeaeae"/>
<rect x="258" y="428" width="8" height="5" fill="#8c8c8c"/>
<rect x="258" y="424" width="8" height="4" fill="#828282"/>
<rect x="258" y="420" width="8" height="4" fill="#646464"/>
<rect x="258" y="415" width="8" height="5" fill="#282828"/>
<rect x="258" y="411" width="8" height="4" fill="#1e1e1e"/>
<rect x="258" y="349" width="8" height="5" fill="#232323"/>
<rect x="258" y="345" width="8" height="4" fill="#232323"/>
<rect x="266" y="503" width="9" height="5" fill="#232323"/>
<rect x="266" y="468" width="9" height="4" fill="#1e1e1e"/>
<rect x="266" y="464" width="9" height="4" fill="#1e1e1e"/>
<rect x="266" y="459" width="9" height="5" fill="#2d2d2d"/>
<rect x="266" y="455" width="9" height="4" fill="#232323"/>
<rect x="266" y="450" width="9" height="5" fill="#2e2e2e"/>
<rect x="266" y="446" width="9" height="4" fill="#676767"/>
<rect x="266" y="442" width="9" height="4" fill="#979797"/>
<rect x="266" y="437" width="9" height="5" fill="#acacac"/>
<rect x="266" y="433" width="9" height="4" fill="#acacac"/>
<rect x="266" y="428" width="9" height="5" fill="#888888"/>
<rect x="266" y="424" width="9" height="4" fill="#7e7e7e"/>
<rect x="266" y="420" width="9" height="4" fill="#5e5e5e"/>
<rect x="266" y="415" width="9" height="5" fill="#202020"/>
<rect x="266" y="411" width="9" height="4" fill="#1e1e1e"/>
<rect x="275" y="468" width="8" height="4" fill="#2d2d2d"/>
<rect x="275" y="464" width="8" height="4" fill="#3e3e3e"/>
<rect x="275" y="459" width="8" height="5" fill="#414141"/>
<rect x="275" y="455" width="8" height="4" fill="#343434"/>
<rect x="275" y="450" width="8" height="5" fill="#303030"/>
<rect x="275" y="446" width="8" height="4" fill="#646464"/>
<rect x="275" y="442" width="8" height="4" fill="#949494"/>
<rect x="275" y="437" width="8" height="5" fill="#aaaaaa"/>
<rect x="275" y="433" width="8" height="4" fill="#aaaaaa"/>
<rect x="275" y="428" width="8" height="5" fill="#848484"/>
<rect x="275" y="424" width="8" height="4" fill="#7a7a7a"/>
<rect x="275" y="420" width="8" height="4" fill="#595959"/>
<rect x="275" y="415" width="8" height="5" fill="#202020"/>
<rect x="283" y="472" width="9" height="5" fill="#1e1e1e"/>
<rect x="283" y="468" width="9" height="4" fill="#2d2d2d"/>
<rect x="283" y="464" width="9" height="4" fill="#3e3e3e"/>
<rect x="283" y="459" width="9" height="5" fill="#3a3a3a"/>
<rect x="283" y="455" width="9" height="4" fill="#343434"/>
<rect x="283" y="450" width="9" height="5" fill="#313131"/>
<rect x="283" y="446" width="9" height="4" fill="#626262"/>
<rect x="283" y="442" width="9" height="4" fill="#909090"/>
<rect x="283" y="437" width="9" height="5" fill="#a8a8a8"/>
<rect x="283" y="433" width="9" height="4" fill="#a8a8a8"/>
<rect x="283" y="428" width="9" height="5" fill="#818181"/>
<rect x="283" y="424" width="9" height="4" fill="#777777"/>
<rect x="283" y="420" width="9" height="4" fill="#545454"/>
<rect x="283" y="415" width="9" height="5" fill="#202020"/>
<rect x="292" y="468" width="8" height="4" fill="#2d2d2d"/>
<rect x="292" y="464" width="8" height="4" fill="#323232"/>
<rect x="292" y="459" width="8" height="5" fill="#3a3a3a"/>
<rect x="292" y="455" width="8" height="4" fill="#343434"/>
<rect x="292" y="450" width="8" height="5" fill="#323232"/>
<rect x="292" y="446" width="8" height="4" fill="#606060"/>
<rect x="292" y="442" width="8" height="4" fill="#8c8c8c"/>
<rect x="292" y="437" width="8" height="5" fill="#a5a5a5"/>
<rect x="292" y="433" width="8" height="4" fill="#a6a6a6"/>
<rect x="292" y="428" width="8" height="5" fill="#7d7d7d"/>
<rect x="292" y="424" width="8" height="4" fill="#737373"/>
<rect x="292" y="420" width="8" height="4" fill="#4e4e4e"/>
<rect x="292" y="415" width="8" height="5" fill="#202020"/>
<rect x="292" y="371" width="8" height="5" fill="#232323"/>
<rect x="292" y="367" width="8" height="4" fill="#232323"/>
<rect x="300" y="464" width="9" height="4" fill="#232323"/>
<rect x="300" y="459" width="9" height="5" fill="#232323"/>
<rect x="300" y="455" width="9" height="4" fill="#232323"/>
<rect x="300" y="450" width="9" height="5" fill="#323232"/>
<rect x="300" y="446" width="9" height="4" fill="#5f5f5f"/>
<rect x="300" y="442" width="9" height="4" fill="#8b8b8b"/>
<rect x="300" y="437" width="9" height="5" fill="#a4a4a4"/>
<rect x="300" y="433" width="9" height="4" fill="#a5a5a5"/>
<rect x="300" y="428" width="9" height="5" fill="#7c7c7c"/>
<rect x="300" y="424" width="9" height="4" fill="#737373"/>
<rect x="300" y="420" width="9" height="4" fill="#4f4f4f"/>
<rect x="300" y="415" width="9" height="5" fill="#202020"/>
<rect x="309" y="464" width="8" height="4" fill="#232323"/>
<rect x="309" y="459" width="8" height="5" fill="#232323"/>
<rect x="309" y="455" width="8" height="4" fill="#232323"/>
<rect x="309" y="450" width="8" height="5" fill="#313131"/>
<rect x="309" y="446" width="8" height="4" fill="#5e5e5e"/>
<rect x="309" y="442" width="8" height="4" fill="#8a8a8a"/>
<rect x="309" y="437" width="8" height="5" fill="#a2a2a2"/>
<rect x="309" y="433" width="8" height="4" fill="#a4a4a4"/>
<rect x="309" y="428" width="8" height="5" fill="#7c7c7c"/>
<rect x="309" y="424" width="8" height="4" fill="#737373"/>
<rect x="309" y="420" width="8" height="4" fill="#4f4f4f"/>
<rect x="309" y="415" width="8" height="5" fill="#202020"/>
<rect x="309" y="411" width="8" height="4" fill="#1e1e1e"/>
<rect x="317" y="459" width="9" height="5" fill="#232323"/>
<rect x="317" y="455" width="9" height="4" fill="#232323"/>
<rect x="317" y="450" width="9" height="5" fill="#303030"/>
<rect x="317" y="446" width="9" height="4" fill="#5d5d5d"/>
<rect x="317" y="442" width="9" height="4" fill="#888888"/>
<rect x="317" y="437" width="9" height="5" fill="#a1a1a1"/>
<rect x="317" y="433" width="9" height="4" fill="#a4a4a4"/>
<rect x="317" y="428" width="9" height="5" fill="#7b7b7b"/>
<rect x="317" y="424" width="9" height="4" fill="#737373"/>
<rect x="317" y="420" width="9" height="4" fill="#505050"/>
<rect x="317" y="415" width="9" height="5" fill="#202020"/>
<rect x="326" y="459" width="8" height="5" fill="#232323"/>
<rect x="326" y="455" width="8" height="4" fill="#232323"/>
<rect x="326" y="450" width="8" height="5" fill="#303030"/>
<rect x="326" y="446" width="8" height="4" fill="#5c5c5c"/>
<rect x="326" y="442" width="8" height="4" fill="#878787"/>
<rect x="326" y="437" width="8" height="5" fill="#a0a0a0"/>
<rect x="326" y="433" width="8" height="4" fill="#a3a3a3"/>
<rect x="326" y="428" width="8" height="5" fill="#7a7a7a"/>
<rect x="326" y="424" width="8" height="4" fill="#7a7a7a"/>
<rect x="326" y="420" width="8" height="4" fill="#5c5c5c"/>
<rect x="326" y="415" width="8" height="5" fill="#323232"/>
<rect x="326" y="411" width="8" height="4" fill="#232323"/>
<rect x="334" y="459" width="9" height="5" fill="#1e1e1e"/>
<rect x="334" y="455" width="9" height="4" fill="#232323"/>
<rect x="334" y="450" width="9" height="5" fill="#2f2f2f"/>
<rect x="334" y="446" width="9" height="4" fill="#5b5b5b"/>
<rect x="334" y="442" width="9" height="4" fill="#858585"/>
<rect x="334" y="437" width="9" height="5" fill="#9e9e9e"/>
<rect x="334" y="433" width="9" height="4" fill="#a2a2a2"/>
<rect x="334" y="428" width="9" height="5" fill="#797979"/>
<rect x="334" y="424" width="9" height="4" fill="#767676"/>
<rect x="334" y="420" width="9" height="4" fill="#585858"/>
<rect x="334" y="415" width="9" height="5" fill="#323232"/>
<rect x="334" y="411" width="9" height="4" fill="#232323"/>
<rect x="343" y="455" width="8" height="4" fill="#1e1e1e"/>
<rect x="343" y="450" width="8" height="5" fill="#2f2f2f"/>
<rect x="343" y="446" width="8" height="4" fill="#595959"/>
<rect x="343" y="442" width="8" height="4" fill="#838383"/>
<rect x="343" y="437" width="8" height="5" fill="#9c9c9c"/>
<rect x="343" y="433" width="8" height="4" fill="#a0a0a0"/>
<rect x="343" y="428" width="8" height="5" fill="#777777"/>
<rect x="343" y="424" width="8" height="4" fill="#737373"/>
<rect x="343" y="420" width="8" height="4" fill="#555555"/>
<rect x="343" y="415" width="8" height="5" fill="#323232"/>
<rect x="343" y="411" width="8" height="4" fill="#232323"/>
<rect x="351" y="455" width="9" height="4" fill="#1e1e1e"/>
<rect x="351" y="450" width="9" height="5" fill="#2e2e2e"/>
<rect x="351" y="446" width="9" height="4" fill="#585858"/>
<rect x="351" y="442" width="9" height="4" fill="#818181"/>
<rect x="351" y="437" width="9" height="5" fill="#9a9a9a"/>
<rect x="351" y="433" width="9" height="4" fill="#9f9f9f"/>
<rect x="351" y="428" width="9" height="5" fill="#767676"/>
<rect x="351" y="424" width="9" height="4" fill="#707070"/>
<rect x="351" y="420" width="9" height="4" fill="#4b4b4b"/>
<rect x="351" y="415" width="9" height="5" fill="#1e1e1e"/>
<rect x="360" y="455" width="8" height="4" fill="#1e1e1e"/>
<rect x="360" y="450" width="8" height="5" fill="#2e2e2e"/>
<rect x="360" y="446" width="8" height="4" fill="#565656"/>
<rect x="360" y="442" width="8" height="4" fill="#7f7f7f"/>
<rect x="360" y="437" width="8" height="5" fill="#989898"/>
<rect x="360" y="433" width="8" height="4" fill="#9d9d9d"/>
<rect x="360" y="428" width="8" height="5" fill="#747474"/>
<rect x="360" y="424" width="8" height="4" fill="#6c6c6c"/>
<rect x="360" y="420" width="8" height="4" fill="#484848"/>
<rect x="360" y="415" width="8" height="5" fill="#1e1e1e"/>
<rect x="368" y="455" width="9" height="4" fill="#1e1e1e"/>
<rect x="368" y="450" width="9" height="5" fill="#2d2d2d"/>
<rect x="368" y="446" width="9" height="4" fill="#555555"/>
<rect x="368" y="442" width="9" height="4" fill="#7d7d7d"/>
<rect x="368" y="437" width="9" height="5" fill="#969696"/>
<rect x="368" y="433" width="9" height="4" fill="#9c9c9c"/>
<rect x="368" y="428" width="9" height="5" fill="#737373"/>
<rect x="368" y="424" width="9" height="4" fill="#696969"/>
<rect x="368" y="420" width="9" height="4" fill="#444444"/>
<rect x="368" y="415" width="9" height="5" fill="#1e1e1e"/>
<rect x="368" y="358" width="9" height="4" fill="#232323"/>
<rect x="368" y="354" width="9" height="4" fill="#232323"/>
<rect x="377" y="464" width="8" height="4" fill="#212121"/>
<rect x="377" y="459" width="8" height="5" fill="#1f1f1f"/>
<rect x="377" y="455" width="8" height="4" fill="#1e1e1e"/>
<rect x="377" y="450" width="8" height="5" fill="#2d2d2d"/>
<rect x="377" y="446" width="8" height="4" fill="#545454"/>
<rect x="377" y="442" width="8" height="4" fill="#7b7b7b"/>
<rect x="377" y="437" width="8" height="5" fill="#949494"/>
<rect x="377" y="433" width="8" height="4" fill="#9a9a9a"/>
<rect x="377" y="428" width="8" height="5" fill="#717171"/>
<rect x="377" y="424" width="8" height="4" fill="#666666"/>
<rect x="377" y="420" width="8" height="4" fill="#444444"/>
<rect x="377" y="415" width="8" height="5" fill="#1e1e1e"/>
<rect x="377" y="358" width="8" height="4" fill="#232323"/>
<rect x="377" y="354" width="8" height="4" fill="#232323"/>
<rect x="385" y="464" width="9" height="4" fill="#212121"/>
<rect x="385" y="459" width="9" height="5" fill="#1f1f1f"/>
<rect x="385" y="455" width="9" height="4" fill="#1e1e1e"/>
<rect x="385" y="450" width="9" height="5" fill="#2d2d2d"/>
<rect x="385" y="446" width="9" height="4" fill="#525252"/>
<rect x="385" y="442" width="9" height="4" fill="#797979"/>
<rect x="385" y="437" width="9" height="5" fill="#929292"/>
<rect x="385" y="433" width="9" height="4" fill="#989898"/>
<rect x="385" y="428" width="9" height="5" fill="#6f6f6f"/>
<rect x="385" y="424" width="9" height="4" fill="#636363"/>
<rect x="385" y="420" width="9" height="4" fill="#434343"/>
<rect x="385" y="415" width="9" height="5" fill="#1e1e1e"/>
<rect x="385" y="358" width="9" height="4" fill="#232323"/>
<rect x="394" y="459" width="8" height="5" fill="#1f1f1f"/>
<rect x="394" y="455" width="8" height="4" fill="#1e1e1e"/>
<rect x="394" y="450" width="8" height="5" fill="#2d2d2d"/>
<rect x="394" y="446" width="8" height="4" fill="#515151"/>
<rect x="394" y="442" width="8" height="4" fill="#777777"/>
<rect x="394" y="437" width="8" height="5" fill="#909090"/>
<rect x="394" y="433" width="8" height="4" fill="#969696"/>
<rect x="394" y="428" width="8" height="5" fill="#6d6d6d"/>
<rect x="394" y="424" width="8" height="4" fill="#606060"/>
<rect x="394" y="420" width="8" height="4" fill="#424242"/>
<rect x="394" y="415" width="8" height="5" fill="#1e1e1e"/>
<rect x="402" y="459" width="9" height="5" fill="#1f1f1f"/>
<rect x="402" y="455" width="9" height="4" fill="#1e1e1e"/>
<rect x="402" y="450" width="9" height="5" fill="#2d2d2d"/>
<rect x="402" y="446" width="9" height="4" fill="#4f4f4f"/>
<rect x="402" y="442" width="9" height="4" fill="#747474"/>
<rect x="402" y="437" width="9" height="5" fill="#8d8d8d"/>
<rect x="402" y="433" width="9" height="4" fill="#959595"/>
<rect x="402" y="428" width="9" height="5" fill="#6a6a6a"/>
<rect x="402" y="424" width="9" height="4" fill="#5e5e5e"/>
<rect x="402" y="420" width="9" height="4" fill="#424242"/>
<rect x="402" y="415" width="9" height="5" fill="#1e1e1e"/>
<rect x="411" y="530" width="8" height="4" fill="#212121"/>
<rect x="411" y="455" width="8" height="4" fill="#1e1e1e"/>
<rect x="411" y="450" width="8" height="5" fill="#2d2d2d"/>
<rect x="411" y="446" width="8" height="4" fill="#4e4e4e"/>
<rect x="411" y="442" width="8" height="4" fill="#727272"/>
<rect x="411" y="437" width="8" height="5" fill="#8b8b8b"/>
<rect x="411" y="433" width="8" height="4" fill="#939393"/>
<rect x="411" y="428" width="8" height="5" fill="#686868"/>
<rect x="411" y="424" width="8" height="4" fill="#5b5b5b"/>
<rect x="411" y="420" width="8" height="4" fill="#424242"/>
<rect x="411" y="415" width="8" height="5" fill="#1e1e1e"/>
<rect x="411" y="336" width="8" height="4" fill="#212121"/>
<rect x="419" y="530" width="9" height="4" fill="#212121"/>
<rect x="419" y="525" width="9" height="5" fill="#262626"/>
<rect x="419" y="455" width="9" height="4" fill="#1e1e1e"/>
<rect x="419" y="450" width="9" height="5" fill="#232323"/>
<rect x="419" y="446" width="9" height="4" fill="#4c4c4c"/>
<rect x="419" y="442" width="9" height="4" fill="#707070"/>
<rect x="419" y="437" width="9" height="5" fill="#898989"/>
<rect x="419" y="433" width="9" height="4" fill="#919191"/>
<rect x="419" y="428" width="9" height="5" fill="#666666"/>
<rect x="419" y="424" width="9" height="4" fill="#585858"/>
<rect x="419" y="420" width="9" height="4" fill="#414141"/>
<rect x="419" y="415" width="9" height="5" fill="#1e1e1e"/>
<rect x="419" y="393" width="9" height="5" fill="#232323"/>
<rect x="419" y="336" width="9" height="4" fill="#212121"/>
<rect x="428" y="530" width="8" height="4" fill="#212121"/>
<rect x="428" y="525" width="8" height="5" fill="#262626"/>
<rect x="428" y="450" width="8" height="5" fill="#1e1e1e"/>
<rect x="428" y="446" width="8" height="4" fill="#4b4b4b"/>
<rect x="428" y="442" width="8" height="4" fill="#6e6e6e"/>
<rect x="428" y="437" width="8" height="5" fill="#878787"/>
<rect x="428" y="433" width="8" height="4" fill="#8f8f8f"/>
<rect x="428" y="428" width="8" height="5" fill="#646464"/>
<rect x="428" y="424" width="8" height="4" fill="#555555"/>
<rect x="428" y="420" width="8" height="4" fill="#373737"/>
<rect x="428" y="398" width="8" height="4" fill="#232323"/>
<rect x="428" y="393" width="8" height="5" fill="#232323"/>
<rect x="428" y="336" width="8" height="4" fill="#212121"/>
<rect x="87" y="422" width="691" height="1" fill="#f00"/>
<rect x="87" y="451" width="691" height="1" fill="#f00"/>
<rect x="87" y="334" width="691" height="3" fill="#cb2027"/>
<rect x="87" y="532" width="691" height="3" fill="#cb2027"/>
<rect x="87" y="334" width="3" height="201" fill="#cb2027"/>
<rect x="775" y="334" width="3" height="201" fill="#cb2027"/>
<rect x="95" y="337" width="3" height="3" fill="#cb2027"/>
<rect x="95" y="528" width="3" height="4" fill="#cb2027"/>
<rect x="104" y="337" width="3" height="3" fill="#cb2027"/>
<rect x="104" y="528" width="3" height="4" fill="#cb2027"/>
<rect x="112" y="337" width="3" height="3" fill="#cb2027"/>
<rect x="112" y="528" width="3" height="4" fill="#cb2027"/>
<rect x="121" y="337" width="3" height="3" fill="#cb2027"/>
<rect x="121" y="528" width="3" height="4" fill="#cb2027"/>
<rect x="129" y="337" width="3" height="3" fill="#cb2027"/>
<rect x="129" y="528" width="3" height="4" fill="#cb2027"/>
<rect x="138" y="337" width="3" height="3" fill="#cb2027"/>
<rect x="138" y="528" width="3" height="4" fill="#cb2027"/>
<rect x="146" y="337" width="3" height="3" fill="#cb2027"/>
<rect x="146" y="528" width="3" height="4" fill="#cb2027"/>
<rect x="155" y="337" width="3" height="3" fill="#cb2027"/>
<rect x="155" y="528" width="3" height="4" fill="#cb2027"/>
<rect x="163" y="337" width="3" height="3" fill="#cb2027"/>
<rect x="163" y="528" width="3" height="4" fill="#cb2027"/>
<rect x="172" y="337" width="3" height="8" fill="#cb2027"/>
<rect x="172" y="523" width="3" height="9" fill="#cb2027"/>
<rect x="180" y="337" width="3" height="3" fill="#cb2027"/>
<rect x="180" y="528" width="3" height="4" fill="#cb2027"/>
<rect x="189" y="337" width="3" height="3" fill="#cb2027"/>
<rect x="189" y="528" width="3" height="4" fill="#cb2027"/>
<rect x="197" y="337" width="3" height="3" fill="#cb2027"/>
<rect x="197" y="528" width="3" height="4" fill="#cb2027"/>
<rect x="206" y="337" width="3" height="3" fill="#cb2027"/>
<rect x="206" y="528" width="3" height="4" fill="#cb2027"/>
<rect x="214" y="337" width="3" height="3" fill="#cb2027"/>
<rect x="214" y="528" width="3" height="4" fill="#cb2027"/>
<rect x="223" y="337" width="3" height="3" fill="#cb2027"/>
<rect x="223" y="528" width="3" height="4" fill="#cb2027"/>
<rect x="231" y="337" width="3" height="3" fill="#cb2027"/>
<rect x="231" y="528" width="3" height="4" fill="#cb2027"/>
<rect x="240" y="337" width="3" height="3" fill="#cb2027"/>
<rect x="240" y="528" width="3" height="4" fill="#cb2027"/>
<rect x="248" y="337" width="3" height="3" fill="#cb2027"/>
<rect x="248" y="528" width="3" height="4" fill="#cb2027"/>
<rect x="257" y="337" width="3" height="8" fill="#cb2027"/>
<rect x="257" y="523" width="3" height="9" fill="#cb2027"/>
<rect x="265" y="337" width="3" height="3" fill="#cb2027"/>
<rect x="265" y="528" width="3" height="4" fill="#cb2027"/>
<rect x="274" y="337" width="3" height="3" fill="#cb2027"/>
<rect x="274" y="528" width="3" height="4" fill="#cb2027"/>
<rect x="282" y="337" width="3" height="3" fill="#cb2027"/>
<rect x="282" y="528" width="3" height="4" fill="#cb2027"/>
<rect x="291" y="337" width="3" height="3" fill="#cb2027"/>
<rect x="291" y="528" width="3" height="4" fill="#cb2027"/>
<rect x="299" y="337" width="3" height="3" fill="#cb2027"/>
<rect x="299" y="528" width="3" height="4" fill="#cb2027"/>
<rect x="308" y="337" width="3" height="3" fill="#cb2027"/>
<rect x="308" y="528" width="3" height="4" fill="#cb2027"/>
<rect x="316" y="337" width="3" height="3" fill="#cb2027"/>
<rect x="316" y="528" width="3" height="4" fill="#cb2027"/>
<rect x="325" y="337" width="3" height="3" fill="#cb2027"/>
<rect x="325" y="528" width="3" height="4" fill="#cb2027"/>
<rect x="333" y="337" width="3" height="3" fill="#cb2027"/>
<rect x="333" y="528" width="3" height="4" fill="#cb2027"/>
<rect x="342" y="337" width="3" height="8" fill="#cb2027"/>
<rect x="342" y="523" width="3" height="9" fill="#cb2027"/>
<rect x="350" y="337" width="3" height="3" fill="#cb2027"/>
<rect x="350" y="528" width="3" height="4" fill="#cb2027"/>
<rect x="359" y="337" width="3" height="3" fill="#cb2027"/>
<rect x="359" y="528" width="3" height="4" fill="#cb2027"/>
<rect x="367" y="337" width="3" height="3" fill="#cb2027"/>
<rect x="367" y="528" width="3" height="4" fill="#cb2027"/>
<rect x="376" y="337" width="3" height="3" fill="#cb2027"/>
<rect x="376" y="528" width="3" height="4" fill="#cb2027"/>
<rect x="384" y="337" width="3" height="3" fill="#cb2027"/>
<rect x="384" y="528" width="3" height="4" fill="#cb2027"/>
<rect x="393" y="337" width="3" height="3" fill="#cb2027"/>
<rect x="393" y="528" width="3" height="4" fill="#cb2027"/>
<rect x="401" y="337" width="3" height="3" fill="#cb2027"/>
<rect x="401" y="528" width="3" height="4" fill="#cb2027"/>
<rect x="410" y="337" width="3" height="3" fill="#cb2027"/>
<rect x="410" y="528" width="3" height="4" fill="#cb2027"/>
<rect x="418" y="337" width="3" height="3" fill="#cb2027"/>
<rect x="418" y="528" width="3" height="4" fill="#cb2027"/>
<rect x="427" y="337" width="3" height="8" fill="#cb2027"/>
<rect x="427" y="523" width="3" height="9" fill="#cb2027"/>
<rect x="435" y="337" width="3" height="3" fill="#cb2027"/>
<rect x="435" y="528" width="3" height="4" fill="#cb2027"/>
<rect x="444" y="337" width="3" height="3" fill="#cb2027"/>
<rect x="444" y="528" width="3" height="4" fill="#cb2027"/>
<rect x="452" y="337" width="3" height="3" fill="#cb2027"/>
<rect x="452" y="528" width="3" height="4" fill="#cb2027"/>
<rect x="461" y="337" width="3" height="3" fill="#cb2027"/>
<rect x="461" y="528" width="3" height="4" fill="#cb2027"/>
<rect x="469" y="337" width="3" height="3" fill="#cb2027"/>
<rect x="469" y="528" width="3" height="4" fill="#cb2027"/>
<rect x="478" y="337" width="3" height="3" fill="#cb2027"/>
<rect x="478" y="528" width="3" height="4" fill="#cb2027"/>
<rect x="486" y="337" width="3" height="3" fill="#cb2027"/>
<rect x="486" y="528" width="3" height="4" fill="#cb2027"/>
<rect x="495" y="337" width="3" height="3" fill="#cb2027"/>
<rect x="495" y="528" width="3" height="4" fill="#cb2027"/>
<rect x="503" y="337" width="3" height="3" fill="#cb2027"/>
<rect x="503" y="528" width="3" height="4" fill="#cb2027"/>
<rect x="512" y="337" width="3" height="8" fill="#cb2027"/>
<rect x="512" y="523" width="3" height="9" fill="#cb2027"/>
<rect x="520" y="337" width="3" height="3" fill="#cb2027"/>
<rect x="520" y="528" width="3" height="4" fill="#cb2027"/>
<rect x="529" y="337" width="3" height="3" fill="#cb2027"/>
<rect x="529" y="528" width="3" height="4" fill="#cb2027"/>
<rect x="537" y="337" width="3" height="3" fill="#cb2027"/>
<rect x="537" y="528" width="3" height="4" fill="#cb2027"/>
<rect x="546" y="337" width="3" height="3" fill="#cb2027"/>
<rect x="546" y="528" width="3" height="4" fill="#cb2027"/>
<rect x="554" y="337" width="3" height="3" fill="#cb2027"/>
<rect x="554" y="528" width="3" height="4" fill="#cb2027"/>
<rect x="563" y="337" width="3" height="3" fill="#cb2027"/>
<rect x="563" y="528" width="3" height="4" fill="#cb2027"/>
<rect x="571" y="337" width="3" height="3" fill="#cb2027"/>
<rect x="571" y="528" width="3" height="4" fill="#cb2027"/>
<rect x="580" y="337" width="3" height="3" fill="#cb2027"/>
<rect x="580" y="528" width="3" height="4" fill="#cb2027"/>
<rect x="588" y="337" width="3" height="3" fill="#cb2027"/>
<rect x="588" y="528" width="3" height="4" fill="#cb2027"/>
<rect x="597" y="337" width="3" height="8" fill="#cb2027"/>
<rect x="597" y="523" width="3" height="9" fill="#cb2027"/>
<rect x="605" y="337" width="3" height="3" fill="#cb2027"/>
<rect x="605" y="528" width="3" height="4" fill="#cb2027"/>
<rect x="614" y="337" width="3" height="3" fill="#cb2027"/>
<rect x="614" y="528" width="3" height="4" fill="#cb2027"/>
<rect x="622" y="337" width="3" height="3" fill="#cb2027"/>
<rect x="622" y="528" width="3" height="4" fill="#cb2027"/>
<rect x="631" y="337" width="3" height="3" fill="#cb2027"/>
<rect x="631" y="528" width="3" height="4" fill="#cb2027"/>
<rect x="639" y="337" width="3" height="3" fill="#cb2027"/>
<rect x="639" y="528" width="3" height="4" fill="#cb2027"/>
<rect x="648" y="337" width="3" height="3" fill="#cb2027"/>
<rect x="648" y="528" width="3" height="4" fill="#cb2027"/>
<rect x="656" y="337" width="3" height="3" fill="#cb2027"/>
<rect x="656" y="528" width="3" height="4" fill="#cb2027"/>
<rect x="665" y="337" width="3" height="3" fill="#cb2027"/>
<rect x="665" y="528" width="3" height="4" fill="#cb2027"/>
<rect x="673" y="337" width="3" height="3" fill="#cb2027"/>
<rect x="673" y="528" width="3" height="4" fill="#cb2027"/>
<rect x="682" y="337" width="3" height="8" fill="#cb2027"/>
<rect x="682" y="523" width="3" height="9" fill="#cb2027"/>
<rect x="690" y="337" width="3" height="3" fill="#cb2027"/>
<rect x="690" y="528" width="3" height="4" fill="#cb2027"/>
<rect x="699" y="337" width="3" height="3" fill="#cb2027"/>
<rect x="699" y="528" width="3" height="4" fill="#cb2027"/>
<rect x="707" y="337" width="3" height="3" fill="#cb2027"/>
<rect x="707" y="528" width="3" height="4" fill="#cb2027"/>
<rect x="716" y="337" width="3" height="3" fill="#cb2027"/>
<rect x="716" y="528" width="3" height="4" fill="#cb2027"/>
<rect x="724" y="337" width="3" height="3" fill="#cb2027"/>
<rect x="724" y="528" width="3" height="4" fill="#cb2027"/>
<rect x="733" y="337" width="3" height="3" fill="#cb2027"/>
<rect x="733" y="528" width="3" height="4" fill="#cb2027"/>
<rect x="741" y="337" width="3" height="3" fill="#cb2027"/>
<rect x="741" y="528" width="3" height="4" fill="#cb2027"/>
<rect x="750" y="337" width="3" height="3" fill="#cb2027"/>
<rect x="750" y="528" width="3" height="4" fill="#cb2027"/>
<rect x="758" y="337" width="3" height="3" fill="#cb2027"/>
<rect x="758" y="528" width="3" height="4" fill="#cb2027"/>
<rect x="767" y="337" width="3" height="8" fill="#cb2027"/>
<rect x="767" y="523" width="3" height="9" fill="#cb2027"/>
<rect x="90" y="340" width="5" height="2" fill="#cb2027"/>
<rect x="90" y="387" width="5" height="3" fill="#cb2027"/>
<rect x="90" y="435" width="5" height="3" fill="#cb2027"/>
<rect x="90" y="483" width="5" height="3" fill="#cb2027"/>
<rect x="87" y="436" width="691" height="1" fill="#000"/>
</g>
<text x="88.5" y="325.5" font-size="21" fill="#cb2027" text-anchor="middle" textLength="44" lengthAdjust="spacing" >1.48</text>
<text x="173.438" y="325.5" font-size="21" fill="#cb2027" text-anchor="middle" textLength="44" lengthAdjust="spacing" >2.38</text>
<text x="258.377" y="325.5" font-size="21" fill="#cb2027" text-anchor="middle" textLength="44" lengthAdjust="spacing" >3.24</text>
<text x="343.315" y="325.5" font-size="21" fill="#cb2027" text-anchor="middle" textLength="44" lengthAdjust="spacing" >3.80</text>
<text x="428.253" y="325.5" font-size="21" fill="#cb2027" text-anchor="middle" textLength="44" lengthAdjust="spacing" >4.25</text>
<text x="513.191" y="325.5" font-size="21" fill="#cb2027" text-anchor="middle" textLength="44" lengthAdjust="spacing" >4.63</text>
<text x="598.13" y="325.5" font-size="21" fill="#cb2027" text-anchor="middle" textLength="44" lengthAdjust="spacing" >4.98</text>
<text x="683.068" y="325.5" font-size="21" fill="#cb2027" text-anchor="middle" textLength="44" lengthAdjust="spacing" >5.29</text>
<text x="768.006" y="325.5" font-size="21" fill="#cb2027" text-anchor="middle" textLength="44" lengthAdjust="spacing" >5.55</text>
<text x="88.5" y="564" font-size="21" fill="#cb2027" text-anchor="middle" textLength="12" lengthAdjust="spacing" >0</text>
<text x="173.438" y="564" font-size="21" fill="#cb2027" text-anchor="middle" textLength="24" lengthAdjust="spacing" >10</text>
<text x="258.377" y="564" font-size="21" fill="#cb2027" text-anchor="middle" textLength="24" lengthAdjust="spacing" >20</text>
<text x="343.315" y="564" font-size="21" fill="#cb2027" text-anchor="middle" textLength="24" lengthAdjust="spacing" >30</text>
<text x="428.253" y="564" font-size="21" fill="#cb2027" text-anchor="middle" textLength="24" lengthAdjust="spacing" >40</text>
<text x="513.191" y="564" font-size="21" fill="#cb2027" text-anchor="middle" textLength="24" lengthAdjust="spacing" >50</text>
<text x="598.13" y="564" font-size="21" fill="#cb2027" text-anchor="middle" textLength="24" lengthAdjust="spacing" >60</text>
<text x="683.068" y="564" font-size="21" fill="#cb2027" text-anchor="middle" textLength="24" lengthAdjust="spacing" >70</text>
<text x="768.006" y="564" font-size="21" fill="#cb2027" text-anchor="middle" textLength="24" lengthAdjust="spacing" >80</text>
<text x="81" y="349.5" font-size="21" fill="#cb2027" text-anchor="end" textLength="24" lengthAdjust="spacing" >20</text>
<text x="81" y="396.5" font-size="21" fill="#cb2027" text-anchor="end" textLength="24" lengthAdjust="spacing" >10</text>
<text x="81" y="445.5" font-size="21" fill="#cb2027" text-anchor="end" textLength="12" lengthAdjust="spacing" >0</text>
<text x="81" y="494.5" font-size="21" fill="#cb2027" text-anchor="end" textLength="40.5" lengthAdjust="spacing" >−10</text>
<text x="81" y="534.5" font-size="21" fill="#cb2027" text-anchor="end" textLength="40.5" lengthAdjust="spacing" >−20</text>
<text x="432" y="589" font-size="21" fill="#cb2027" text-anchor="middle" textLength="45.5" lengthAdjust="spacing" >Pixel</text>
<text font-size="21" fill="#cb2027" text-anchor="middle" textLength="187" lengthAdjust="spacing" transform="translate(22.5,435) rotate(-90)">Space Shift <tspan font-size="25">[</tspan>pixel<tspan font-size="25">]</tspan></text>
<g stroke="#666" stroke-width="1"><line x1="789" y1="599" x2="799.5" y2="588.5"/><line x1="793" y1="599" x2="799.5" y2="592.5"/><line x1="797" y1="599" x2="799.5" y2="596.5"/></g>
</svg></body></html>
